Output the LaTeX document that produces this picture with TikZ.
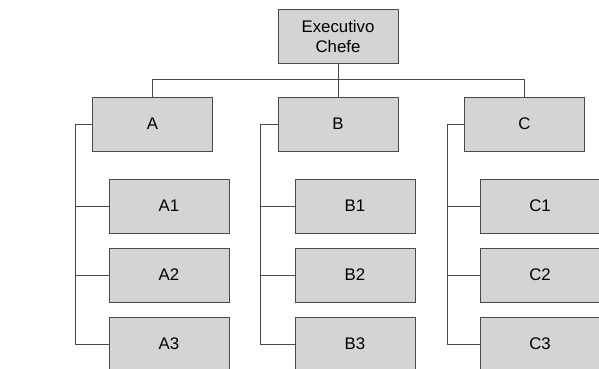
\documentclass[tikz,border=0pt]{standalone}
\usepackage{fontspec}
\setmainfont{Liberation Sans}
\usepackage{xcolor}
\usepackage{tikz}
\usetikzlibrary{positioning,calc}

\definecolor{boxgray}{HTML}{D4D4D4}
\definecolor{linegray}{HTML}{4A4A4A}

\begin{document}
\begin{tikzpicture}[x=1pt, y=-1pt,
    unit/.style={draw=linegray, rectangle, fill=boxgray, line width=0.9pt,
        minimum width=120pt, minimum height=54pt, inner sep=0pt, align=center,
        font=\fontsize{16.8}{20}\selectfont},
    link/.style={draw=linegray, line width=0.8pt}]
    \useasboundingbox (0,0) rectangle (599,369);
    % Top of the hierarchy
    \node[unit] (chefe) at (338,36) {Executivo\\Chefe};
    
    % Departments
    \node[unit] (a) at (152.5,124) {A};
    \node[unit] (b) at (338,124) {B};
    \node[unit] (c) at (524.5,124) {C};
    
    % Sections
    \node[unit] (a1) at (169,206) {A1};
    \node[unit] (a2) at (169,275) {A2};
    \node[unit] (a3) at (169,344) {A3};
    
    \node[unit] (b1) at (355,206) {B1};
    \node[unit] (b2) at (355,275) {B2};
    \node[unit] (b3) at (355,344) {B3};
    
    \node[unit] (c1) at (540,206) {C1};
    \node[unit] (c2) at (540,275) {C2};
    \node[unit] (c3) at (540,344) {C3};
    
    % Connections
    \draw[link] (chefe.south) -- (b.north);
    \draw[link] (a.north) -- ++(0,-17) -| (c.north);
    
    \draw[link] (a.west) -- ++(-17,0) |- (a3.west);
    \draw[link] (a1.west) -- ++(-34,0);
    \draw[link] (a2.west) -- ++(-34,0);
    
    \draw[link] (b.west) -- ++(-17,0) |- (b3.west);
    \draw[link] (b1.west) -- ++(-34,0);
    \draw[link] (b2.west) -- ++(-34,0);
    
    \draw[link] (c.west) -- ++(-17,0) |- (c3.west);
    \draw[link] (c1.west) -- ++(-33,0);
    \draw[link] (c2.west) -- ++(-33,0);
    
\end{tikzpicture}
\end{document}
